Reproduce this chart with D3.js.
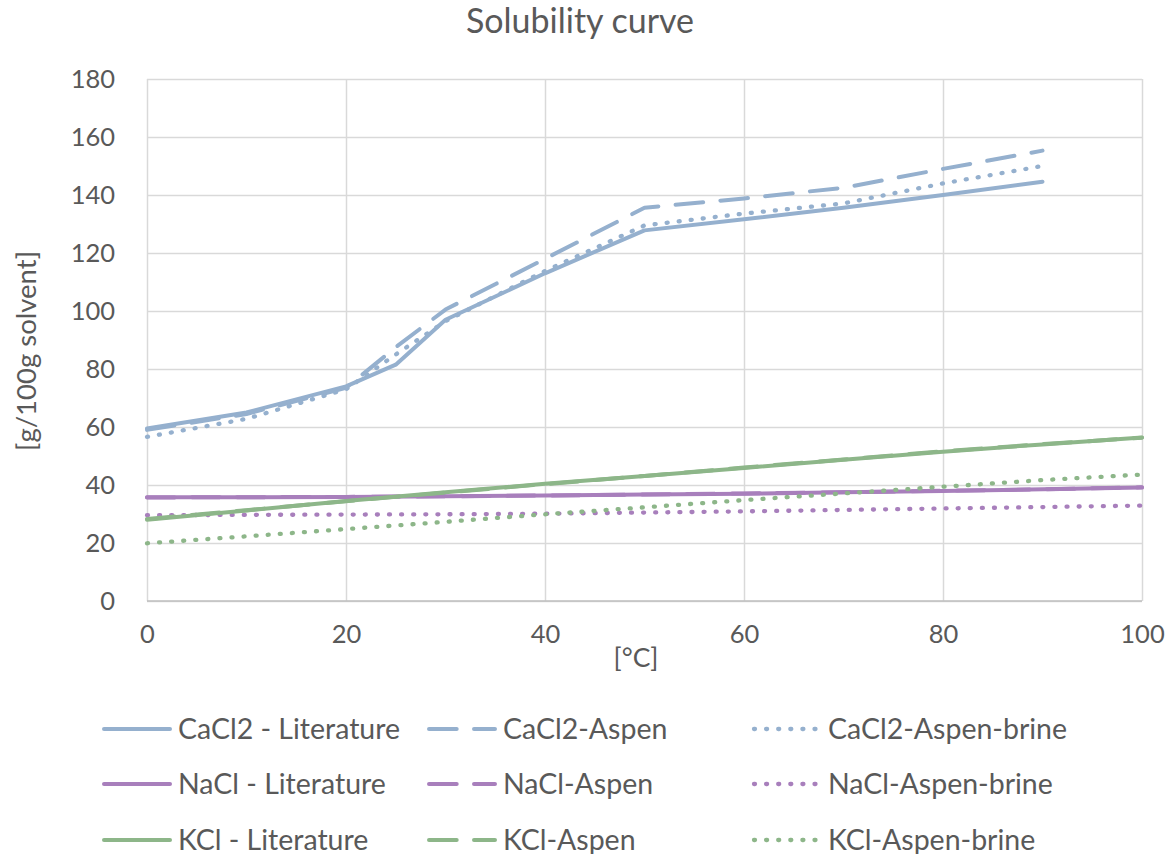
<!DOCTYPE html>
<html>
<head>
<meta charset="utf-8">
<script src="https://cdn.jsdelivr.net/npm/d3@7"></script>
<style>
  body { margin: 0; background: #fff; }
  text { font-family: Lato, "Open Sans", sans-serif; fill: #595959; }
</style>
</head>
<body>
<svg id="chart" width="1175" height="854"></svg>
<script>
// temperatures, degC
var caTemps = [0, 10, 20, 25, 30, 40, 50, 60, 70, 80, 90];
var temps = [0, 10, 20, 30, 40, 50, 60, 70, 80, 90, 100];

// g / 100 g solvent
var cacl2Lit = [59.5, 65, 74, 81.5, 97, 113, 127.8, 131.6, 135.6, 140, 144.6];
var cacl2Aspen = [59, 64.5, 73.5, 87.5, 100.5, 118, 135.6, 138.8, 142.5, 149, 155.3];
var cacl2Brine = [56.6, 62.8, 73, 85, 96.5, 113.8, 129.5, 133.6, 137.1, 144, 150];

var naclLit = [35.8, 35.8, 35.9, 36.1, 36.4, 36.7, 37.0, 37.5, 37.9, 38.5, 39.1];
var naclAspen = [35.7, 35.8, 35.9, 36.1, 36.4, 36.7, 37.1, 37.5, 38.0, 38.5, 39.2];
var naclBrine = [29.6, 29.7, 29.8, 29.9, 30.1, 30.5, 30.9, 31.4, 31.9, 32.4, 32.9];

var kclLit = [28.0, 31.2, 34.5, 37.5, 40.4, 43.1, 45.9, 48.7, 51.5, 54.0, 56.4];
var kclAspen = [28.3, 31.3, 34.4, 37.4, 40.3, 43.1, 46.0, 48.8, 51.6, 54.1, 56.3];
var kclBrine = [19.9, 22.3, 24.8, 27.3, 29.9, 32.3, 34.8, 37.1, 39.4, 41.7, 43.6];

var xTicks = [0, 20, 40, 60, 80, 100];
var yTicks = [0, 20, 40, 60, 80, 100, 120, 140, 160, 180];

var blue = '#95B0CE';
var purple = '#A87FBC';
var green = '#8DB689';

var solid = null;
var dashed = '27.7 17.3';
var dotted = '1 11.1';

function makeSeries(name, xs, ys, color, dash) {
  return {
    name: name,
    color: color,
    dash: dash,
    points: xs.map(function (x, i) { return [x, ys[i]]; })
  };
}

// legend order, row by row
var series = [
  makeSeries('CaCl2 - Literature', caTemps, cacl2Lit, blue, solid),
  makeSeries('CaCl2-Aspen', caTemps, cacl2Aspen, blue, dashed),
  makeSeries('CaCl2-Aspen-brine', caTemps, cacl2Brine, blue, dotted),
  makeSeries('NaCl - Literature', temps, naclLit, purple, solid),
  makeSeries('NaCl-Aspen', temps, naclAspen, purple, dashed),
  makeSeries('NaCl-Aspen-brine', temps, naclBrine, purple, dotted),
  makeSeries('KCl - Literature', temps, kclLit, green, solid),
  makeSeries('KCl-Aspen', temps, kclAspen, green, dashed),
  makeSeries('KCl-Aspen-brine', temps, kclBrine, green, dotted)
];

var plotLeft = 147, plotRight = 1142, plotTop = 79, plotBottom = 601;

var svg = d3.select('#chart');

var x = d3.scaleLinear().domain([0, 100]).range([plotLeft, plotRight]);
var y = d3.scaleLinear().domain([0, 180]).range([plotBottom, plotTop]);

svg.append('text')
  .attr('x', 580)
  .attr('y', 33)
  .attr('text-anchor', 'middle')
  .style('font-size', '34px')
  .text('Solubility curve');

// gridlines
var gridX = svg.append('g')
  .attr('transform', 'translate(0,' + plotBottom + ')')
  .call(d3.axisBottom(x).tickValues(xTicks).tickSize(-(plotBottom - plotTop)).tickFormat(''));
var gridY = svg.append('g')
  .attr('transform', 'translate(' + plotLeft + ',0)')
  .call(d3.axisLeft(y).tickValues(yTicks).tickSize(-(plotRight - plotLeft)).tickFormat(''));
[gridX, gridY].forEach(function (g) {
  g.select('.domain').remove();
  g.selectAll('line').attr('stroke', '#D9D9D9').attr('stroke-width', 1.5);
});

svg.append('line')
  .attr('x1', plotLeft).attr('x2', plotRight)
  .attr('y1', plotBottom).attr('y2', plotBottom)
  .attr('stroke', '#BFBFBF').attr('stroke-width', 1.5);

// tick labels
var xAxis = svg.append('g')
  .attr('transform', 'translate(0,' + plotBottom + ')')
  .call(d3.axisBottom(x).tickValues(xTicks).tickSize(0).tickPadding(24));
var yAxis = svg.append('g')
  .attr('transform', 'translate(' + plotLeft + ',0)')
  .call(d3.axisLeft(y).tickValues(yTicks).tickSize(0).tickPadding(32));
[xAxis, yAxis].forEach(function (g) {
  g.select('.domain').remove();
  g.selectAll('text')
    .style('font-size', '25.5px')
    .style('font-family', 'Lato, "Open Sans", sans-serif')
    .attr('fill', '#595959');
});

svg.append('text')
  .attr('x', 636)
  .attr('y', 667)
  .attr('text-anchor', 'middle')
  .style('font-size', '26.5px')
  .text('[°C]');

svg.append('text')
  .attr('transform', 'translate(36,351) rotate(-90)')
  .attr('text-anchor', 'middle')
  .style('font-size', '27.5px')
  .text('[g/100g solvent]');

var line = d3.line()
  .x(function (d) { return x(d[0]); })
  .y(function (d) { return y(d[1]); });

svg.append('g').selectAll('path')
  .data(series)
  .enter()
  .append('path')
  .attr('d', function (d) { return line(d.points); })
  .attr('fill', 'none')
  .attr('stroke', function (d) { return d.color; })
  .attr('stroke-width', function (d) { return d.dash === dotted ? 4.3 : 4; })
  .attr('stroke-linejoin', 'round')
  .attr('stroke-linecap', 'round')
  .attr('stroke-dasharray', function (d) { return d.dash; });

// legend, 3 columns
var legendX = [102, 427, 752];
var legendY = [729, 784, 840];

var items = svg.append('g').selectAll('g')
  .data(series)
  .enter()
  .append('g')
  .attr('transform', function (d, i) {
    return 'translate(' + legendX[i % 3] + ',' + legendY[Math.floor(i / 3)] + ')';
  });

items.append('line')
  .attr('x1', 2).attr('x2', 68)
  .attr('stroke', function (d) { return d.color; })
  .attr('stroke-width', function (d) { return d.dash === dotted ? 4.3 : 4; })
  .attr('stroke-linecap', 'round')
  .attr('stroke-dasharray', function (d) { return d.dash; });

items.append('text')
  .attr('x', 76)
  .attr('dy', '0.35em')
  .style('font-size', '28.5px')
  .text(function (d) { return d.name; });
</script>
</body>
</html>
